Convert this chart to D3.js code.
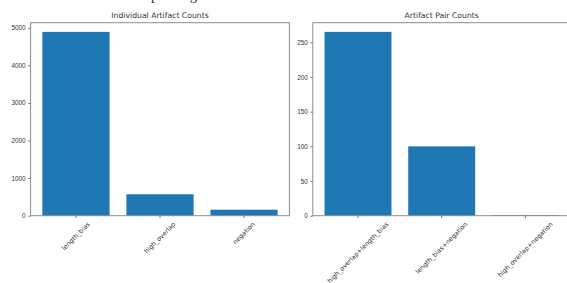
<!DOCTYPE html>
<html>
<head>
<meta charset="utf-8">
<script src="https://cdn.jsdelivr.net/npm/d3@7"></script>
<style>
  body { margin: 0; background: #fff; }
  svg { display: block; font-family: "DejaVu Sans", sans-serif; }
</style>
</head>
<body>
<div id="chart"></div>
<script>
// data
const singleNames = ["length_bias", "high_overlap", "negation"];
const singleCounts = [4890, 570, 160];
const singleTicks = [0, 1000, 2000, 3000, 4000, 5000];

const pairNames = ["high_overlap+length_bias", "length_bias+negation", "high_overlap+negation"];
const pairCounts = [265, 100, 1];
const pairTicks = [0, 50, 100, 150, 200, 250];

const W = 567, H = 283;
const plotTop = 22.7, plotBottom = 215.7;

const svg = d3.select("#chart").append("svg")
  .attr("width", W)
  .attr("height", H);

// cut-off caption above the figure (only descenders visible)
svg.append("text").attr("x", 151).attr("y", -0.5)
  .style("font-family", "'Liberation Serif', serif").style("font-size", "14px")
  .attr("fill", "#222").text("p");
svg.append("text").attr("x", 190).attr("y", -0.5)
  .style("font-family", "'Liberation Serif', serif").style("font-size", "14px")
  .attr("fill", "#222").text("g");

const drawPanel = (names, counts, ticks, left, right, title) => {
  const g = svg.append("g");

  // matplotlib style xlim: bars width 0.8 with 5% margins
  const step = (right - left) / 3.08;
  const x = d3.scaleBand()
    .domain(names)
    .range([left + 0.14 * step, right - 0.14 * step])
    .paddingInner(0.2)
    .paddingOuter(0);

  const y = d3.scaleLinear()
    .domain([0, d3.max(counts) * 1.05])
    .range([plotBottom, plotTop]);

  g.selectAll(".bar")
    .data(names)
    .enter().append("rect")
    .attr("class", "bar")
    .attr("x", (d) => x(d))
    .attr("width", x.bandwidth())
    .attr("y", (d, i) => y(counts[i]))
    .attr("height", (d, i) => plotBottom - y(counts[i]))
    .attr("fill", "#1f77b4");

  // frame
  g.append("rect")
    .attr("x", left).attr("y", plotTop)
    .attr("width", right - left).attr("height", plotBottom - plotTop)
    .attr("fill", "none")
    .attr("stroke", "#8c8c8c")
    .attr("stroke-width", 1);

  const yAxis = g.append("g")
    .attr("transform", `translate(${left},0)`)
    .call(d3.axisLeft(y).tickValues(ticks).tickSize(2.5).tickPadding(2.5).tickFormat(d3.format("d")));
  yAxis.select(".domain").remove();
  yAxis.selectAll("line").attr("stroke", "#777");
  yAxis.selectAll("text").attr("fill", "#333").style("font-size", "6.4px");

  const xAxis = g.append("g")
    .attr("transform", `translate(0,${plotBottom})`)
    .call(d3.axisBottom(x).tickSize(2.5).tickFormat(""));
  xAxis.select(".domain").remove();
  xAxis.selectAll("line").attr("stroke", "#777");

  // rotated labels, bbox centred on tick like matplotlib rotation=45
  const fs = 6.4;
  names.forEach((n) => {
    const t = g.append("text")
      .style("font-size", fs + "px")
      .attr("fill", "#333")
      .attr("text-anchor", "middle")
      .attr("dominant-baseline", "central")
      .text(n);
    const w = t.node().getComputedTextLength();
    const h = (w + fs * 1.15) * Math.SQRT1_2;
    const cx = x(n) + x.bandwidth() / 2;
    const cy = plotBottom + 5 + h / 2;
    t.attr("transform", `translate(${cx},${cy}) rotate(-45)`);
  });

  g.append("text")
    .attr("x", (left + right) / 2)
    .attr("y", 18.3)
    .attr("text-anchor", "middle")
    .attr("fill", "#333")
    .style("font-size", "7.7px")
    .text(title);
};

drawPanel(singleNames, singleCounts, singleTicks, 30.6, 289.4, "Individual Artifact Counts");
drawPanel(pairNames, pairCounts, pairTicks, 312.8, 570.6, "Artifact Pair Counts");
</script>
</body>
</html>
